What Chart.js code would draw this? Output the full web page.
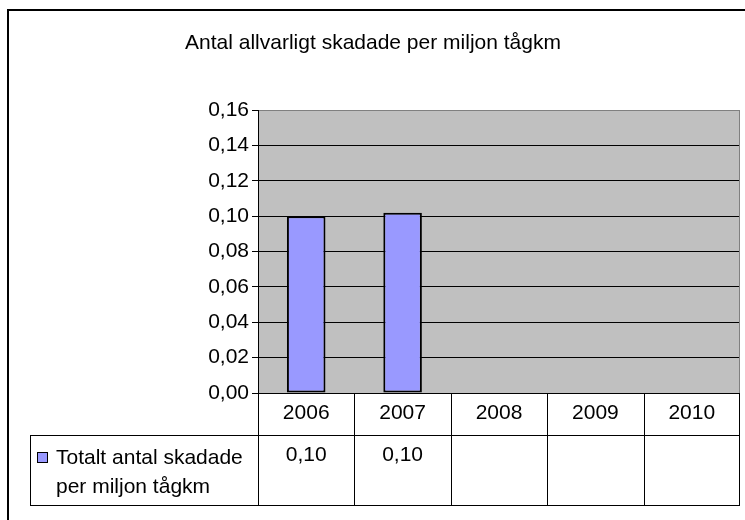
<!DOCTYPE html>
<html>
<head>
<meta charset="utf-8">
<script src="https://cdn.jsdelivr.net/npm/chart.js@4"></script>
<style>
  body { margin: 0; background: #fff; }
</style>
</head>
<body>
<canvas id="myChart" width="745" height="520"></canvas>
<script>
var chartTitle = 'Antal allvarligt skadade per miljon tågkm';
var years = ['2006', '2007', '2008', '2009', '2010'];
var skadade = [0.100, 0.102, null, null, null];
var seriesLabel = ['Totalt antal skadade', 'per miljon tågkm'];
var yMax = 0.16;
var yStep = 0.02;

var FONT = '"Liberation Sans", Arial, sans-serif';
var SIZE = 21;

function komma(v) {
    return v.toFixed(2).replace('.', ',');
}

/* grey plot area */
var plotBg = {
    id: 'plotBg',
    beforeDraw: function(chart) {
        var a = chart.chartArea, ctx = chart.ctx;
        ctx.save();
        ctx.fillStyle = '#C0C0C0';
        ctx.fillRect(a.left, a.top, a.right - a.left, a.bottom - a.top);
        ctx.restore();
    }
};

/* data table under the plot + outer frame */
var dataTable = {
    id: 'dataTable',
    afterDraw: function(chart) {
        var ctx = chart.ctx, a = chart.chartArea, x = chart.scales.x;
        var w = x.getPixelForValue(1) - x.getPixelForValue(0);
        var top = a.bottom, mid = 435, bot = 505, legLeft = 30;

        ctx.save();
        // right edge of plot (grey)
        ctx.strokeStyle = '#808080';
        ctx.lineWidth = 1;
        ctx.beginPath();
        ctx.moveTo(Math.round(a.right) - 0.5, a.top);
        ctx.lineTo(Math.round(a.right) - 0.5, a.bottom);
        ctx.stroke();

        ctx.strokeStyle = '#000';
        ctx.beginPath();
        ctx.moveTo(legLeft, mid + 0.5); ctx.lineTo(a.right, mid + 0.5);
        ctx.moveTo(legLeft, bot + 0.5); ctx.lineTo(a.right, bot + 0.5);
        ctx.moveTo(legLeft + 0.5, mid); ctx.lineTo(legLeft + 0.5, bot + 1);
        for (var i = 0; i <= years.length; i++) {
            var px = Math.round(x.getPixelForValue(i) - w / 2) + 0.5;
            if (i == years.length) px = Math.round(a.right) - 0.5;
            ctx.moveTo(px, top);
            ctx.lineTo(px, bot + 1);
        }
        ctx.stroke();

        ctx.fillStyle = '#000';
        ctx.font = SIZE + 'px ' + FONT;
        ctx.textAlign = 'center';
        ctx.textBaseline = 'middle';
        for (var j = 0; j < years.length; j++) {
            var cx = x.getPixelForValue(j);
            ctx.fillText(years[j], cx, 413);
            if (skadade[j] != null) ctx.fillText(komma(skadade[j]), cx, 455);
        }

        // legend key
        ctx.fillStyle = '#9999FF';
        ctx.fillRect(37, 452, 10, 10);
        ctx.strokeStyle = '#000';
        ctx.strokeRect(37.5, 452.5, 10, 10);
        ctx.fillStyle = '#000';
        ctx.textAlign = 'left';
        ctx.fillText(seriesLabel[0], 56, 458);
        ctx.fillText(seriesLabel[1], 56, 487);

        // outer frame
        ctx.lineWidth = 2;
        ctx.strokeRect(8, 10, 800, 600);
        ctx.restore();
    }
};

const ctx1 = document.getElementById('myChart');

new Chart(ctx1, {
    type: 'bar',
    data: {
        labels: years,
        datasets: [{
            label: seriesLabel.join(' '),
            data: skadade,
            backgroundColor: '#9999FF',
            borderColor: '#000',
            borderWidth: 2,
            borderSkipped: false,
            barPercentage: 0.4,
            categoryPercentage: 1
        }]
    },
    options: {
        responsive: false,
        animation: false,
        layout: {
            padding: { left: 6, right: 5, top: 0, bottom: 127 }
        },
        plugins: {
            legend: { display: false },
            tooltip: { enabled: false },
            title: {
                display: true,
                text: chartTitle,
                color: '#000',
                font: { family: FONT, size: SIZE, weight: 'normal' },
                padding: { top: 31, bottom: 54 }
            }
        },
        scales: {
            x: {
                display: false
            },
            y: {
                min: 0,
                max: yMax,
                afterFit: function(scale) { scale.width = 252; },
                ticks: {
                    stepSize: yStep,
                    color: '#000',
                    padding: 3,
                    font: { family: FONT, size: SIZE },
                    callback: function(v) { return komma(v); }
                },
                grid: {
                    color: function(c) { return c.tick && Math.abs(c.tick.value - yMax) < 1e-9 ? '#808080' : '#000'; },
                    tickColor: '#000',
                    tickLength: 6
                },
                border: { color: '#000' }
            }
        }
    },
    plugins: [plotBg, dataTable]
});
</script>
</body>
</html>
